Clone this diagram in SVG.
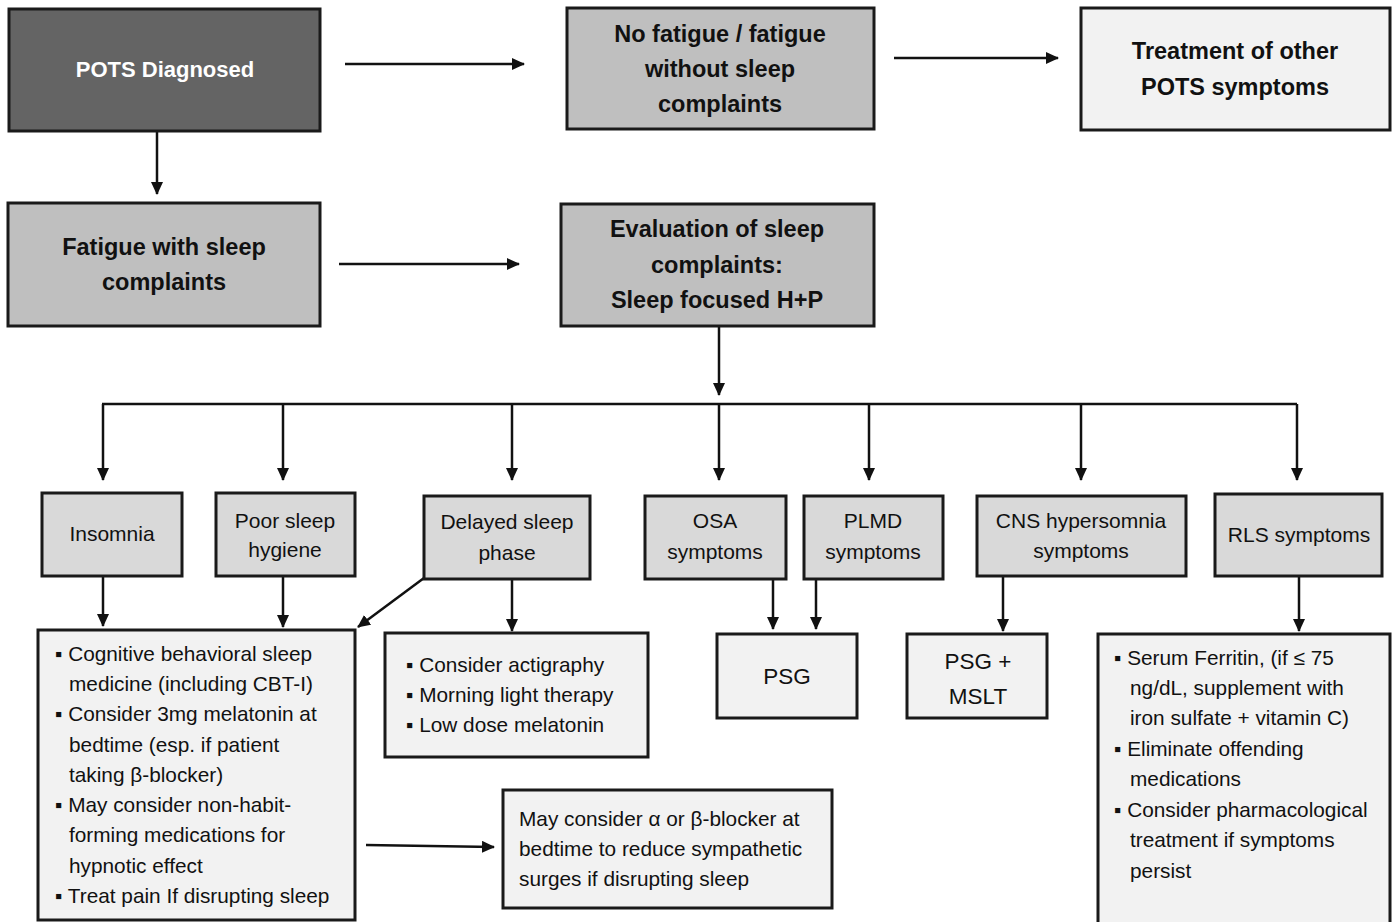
<svg xmlns="http://www.w3.org/2000/svg" width="1392" height="922" viewBox="0 0 1392 922">
<defs>
<marker id="ah" markerWidth="14" markerHeight="14" refX="12" refY="6" orient="auto" markerUnits="userSpaceOnUse">
<path d="M0,0 L13,6 L0,12 Z" fill="#111"/>
</marker>
<style>
.box{stroke:#1a1a1a;stroke-width:3}
.dark{fill:#646464}
.mid{fill:#bfbfbf}
.lt{fill:#d9d9d9}
.pale{fill:#f2f2f2}
text{font-family:"Liberation Sans",Arial,sans-serif;fill:#111}
.b{font-weight:bold;font-size:23.5px;text-anchor:middle}
.w{fill:#fff}
.n{font-size:21px;text-anchor:middle}
.t{font-size:20.8px}
.c{stroke:#111;stroke-width:2.5;fill:none}
.ca{stroke:#111;stroke-width:2.5;fill:none;marker-end:url(#ah)}
</style>
</defs>
<rect width="1392" height="922" fill="#fff"/>

<g id="connectors">
<line class="ca" x1="345" y1="64" x2="524" y2="64"/>
<line class="ca" x1="894" y1="58" x2="1058" y2="58"/>
<line class="ca" x1="157" y1="131" x2="157" y2="194"/>
<line class="ca" x1="339" y1="264" x2="519" y2="264"/>
<line class="ca" x1="719" y1="326" x2="719" y2="395"/>
<line class="c" x1="102" y1="404" x2="1297" y2="404"/>
<line class="ca" x1="103" y1="404" x2="103" y2="480"/>
<line class="ca" x1="283" y1="404" x2="283" y2="480"/>
<line class="ca" x1="512" y1="404" x2="512" y2="480"/>
<line class="ca" x1="719" y1="404" x2="719" y2="480"/>
<line class="ca" x1="869" y1="404" x2="869" y2="480"/>
<line class="ca" x1="1081" y1="404" x2="1081" y2="480"/>
<line class="ca" x1="1297" y1="404" x2="1297" y2="480"/>
<line class="ca" x1="103" y1="576" x2="103" y2="626"/>
<line class="ca" x1="283" y1="576" x2="283" y2="627"/>
<line class="ca" x1="424" y1="578" x2="358" y2="627"/>
<line class="ca" x1="512" y1="579" x2="512" y2="631"/>
<line class="ca" x1="773" y1="579" x2="773" y2="629"/>
<line class="ca" x1="816" y1="579" x2="816" y2="629"/>
<line class="ca" x1="1003" y1="576" x2="1003" y2="631"/>
<line class="ca" x1="1299" y1="576" x2="1299" y2="631"/>
<line class="ca" x1="366" y1="845" x2="494" y2="847"/>
</g>

<g id="pots">
<rect class="box dark" x="9" y="9" width="311" height="122"/>
<text class="b w" x="165" y="77" style="font-size:22px">POTS Diagnosed</text>
</g>
<g id="nofatigue">
<rect class="box mid" x="567" y="8" width="307" height="121"/>
<text class="b" x="720" y="42">No fatigue / fatigue</text>
<text class="b" x="720" y="77">without sleep</text>
<text class="b" x="720" y="112">complaints</text>
</g>
<g id="treatment">
<rect class="box pale" x="1081" y="8" width="309" height="122"/>
<text class="b" x="1235" y="59">Treatment of other</text>
<text class="b" x="1235" y="95">POTS symptoms</text>
</g>
<g id="fatigue">
<rect class="box mid" x="8" y="203" width="312" height="123"/>
<text class="b" x="164" y="255">Fatigue with sleep</text>
<text class="b" x="164" y="290">complaints</text>
</g>
<g id="evaluation">
<rect class="box mid" x="561" y="204" width="313" height="122"/>
<text class="b" x="717" y="237">Evaluation of sleep</text>
<text class="b" x="717" y="273">complaints:</text>
<text class="b" x="717" y="308">Sleep focused H+P</text>
</g>

<g id="insomnia">
<rect class="box lt" x="42" y="493" width="140" height="83"/>
<text class="n" x="112" y="541">Insomnia</text>
</g>
<g id="poorsleep">
<rect class="box lt" x="216" y="493" width="139" height="83"/>
<text class="n" x="285" y="528">Poor sleep</text>
<text class="n" x="285" y="557">hygiene</text>
</g>
<g id="delayed">
<rect class="box lt" x="424" y="496" width="166" height="83"/>
<text class="n" x="507" y="529">Delayed sleep</text>
<text class="n" x="507" y="560">phase</text>
</g>
<g id="osa">
<rect class="box lt" x="645" y="496" width="141" height="83"/>
<text class="n" x="715" y="528">OSA</text>
<text class="n" x="715" y="559">symptoms</text>
</g>
<g id="plmd">
<rect class="box lt" x="804" y="496" width="139" height="83"/>
<text class="n" x="873" y="528">PLMD</text>
<text class="n" x="873" y="559">symptoms</text>
</g>
<g id="cns">
<rect class="box lt" x="977" y="496" width="209" height="80"/>
<text class="n" x="1081" y="528">CNS hypersomnia</text>
<text class="n" x="1081" y="558">symptoms</text>
</g>
<g id="rls">
<rect class="box lt" x="1215" y="494" width="167" height="82"/>
<text class="n" x="1299" y="542">RLS symptoms</text>
</g>

<g id="insomnia-tx">
<rect class="box pale" x="38" y="630" width="317" height="290"/>
<text class="t" x="55" y="661">▪ Cognitive behavioral sleep</text>
<text class="t" x="69" y="691">medicine (including CBT-I)</text>
<text class="t" x="55" y="721">▪ Consider 3mg melatonin at</text>
<text class="t" x="69" y="752">bedtime (esp. if patient</text>
<text class="t" x="69" y="782">taking β-blocker)</text>
<text class="t" x="55" y="812">▪ May consider non-habit-</text>
<text class="t" x="69" y="842">forming medications for</text>
<text class="t" x="69" y="873">hypnotic effect</text>
<text class="t" x="55" y="903">▪ Treat pain If disrupting sleep</text>
</g>
<g id="delayed-tx">
<rect class="box pale" x="385" y="633" width="263" height="124"/>
<text class="t" x="406" y="672">▪ Consider actigraphy</text>
<text class="t" x="406" y="702">▪ Morning light therapy</text>
<text class="t" x="406" y="732">▪ Low dose melatonin</text>
</g>
<g id="psg">
<rect class="box pale" x="717" y="634" width="140" height="84"/>
<text class="n" x="787" y="684" style="font-size:22.5px">PSG</text>
</g>
<g id="psgmslt">
<rect class="box pale" x="907" y="634" width="140" height="84"/>
<text class="n" x="978" y="669" style="font-size:22.5px">PSG +</text>
<text class="n" x="978" y="704" style="font-size:22.5px">MSLT</text>
</g>
<g id="rls-tx">
<rect class="box pale" x="1098" y="634" width="292" height="292"/>
<text class="t" x="1114" y="665">▪ Serum Ferritin, (if ≤ 75</text>
<text class="t" x="1130" y="695">ng/dL, supplement with</text>
<text class="t" x="1130" y="725">iron sulfate + vitamin C)</text>
<text class="t" x="1114" y="756">▪ Eliminate offending</text>
<text class="t" x="1130" y="786">medications</text>
<text class="t" x="1114" y="817">▪ Consider pharmacological</text>
<text class="t" x="1130" y="847">treatment if symptoms</text>
<text class="t" x="1130" y="878">persist</text>
</g>
<g id="alpha">
<rect class="box pale" x="503" y="790" width="329" height="118"/>
<text class="t" x="519" y="826">May consider α or β-blocker at</text>
<text class="t" x="519" y="856">bedtime to reduce sympathetic</text>
<text class="t" x="519" y="886">surges if disrupting sleep</text>
</g>
</svg>
